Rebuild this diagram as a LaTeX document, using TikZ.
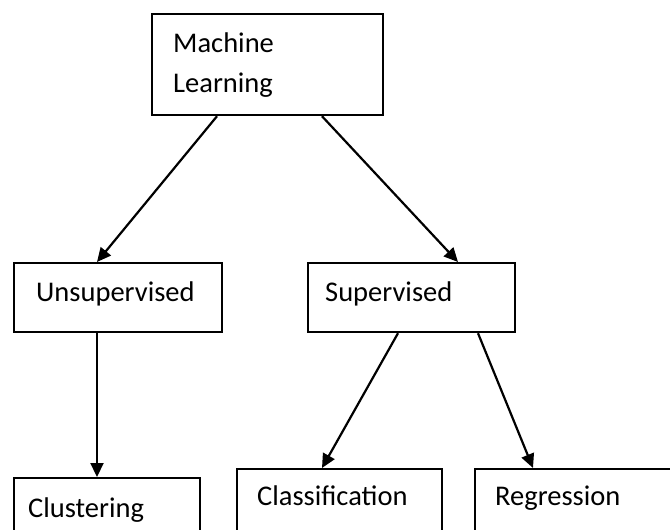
\documentclass[tikz,border=0pt]{standalone}
\usepackage{fontspec}
\setmainfont{Carlito}
\usetikzlibrary{arrows.meta,calc}
\begin{document}
\begin{tikzpicture}[x=1pt,y=-1pt,
  box/.style={draw=black,line width=2.2pt,rectangle,inner sep=0pt,anchor=north west},
  lbl/.style={inner sep=0pt,anchor=base west,font=\fontsize{28.5}{40}\selectfont},
  conn/.style={draw=black,line width=2.2pt,-{Triangle[length=14pt,width=13pt]}}]
\useasboundingbox (0,0) rectangle (670,530);
\clip (0,0) rectangle (670,530);
\node[box,minimum width=231pt,minimum height=101pt] (ml) at (151,13) {};
\node[box,minimum width=208pt,minimum height=69pt] (unsup) at (13,262) {};
\node[box,minimum width=207pt,minimum height=69pt] (sup) at (307,262) {};
\node[box,minimum width=186pt,minimum height=80pt] (clus) at (13,477) {};
\node[box,minimum width=205pt,minimum height=90pt] (clas) at (236,468) {};
\node[box,minimum width=230pt,minimum height=90pt] (reg) at (474,468) {};
\node[lbl] (mlt1) at (173,52) {Machine};
\node[lbl] (mlt2) at (173,92) {Learning};
\node[lbl] (unsupt) at (36,301) {Unsupervised};
\node[lbl] (supt) at (325,301) {Supervised};
\node[lbl] (clust) at (28,517) {Clustering};
\node[lbl] (clast) at (257,505) {Classification};
\node[lbl] (regt) at (495,505) {Regression};
\draw[conn] ($(ml.south west)+(66,0)$) -- ($(unsup.north west)+(84,0)$);
\draw[conn] ($(ml.south west)+(171,0)$) -- ($(sup.north west)+(151,0)$);
\draw[conn] ($(unsup.south west)+(84,0)$) -- ($(clus.north west)+(84,0)$);
\draw[conn] ($(sup.south west)+(91,0)$) -- ($(clas.north west)+(86,0)$);
\draw[conn] ($(sup.south west)+(171,0)$) -- ($(reg.north west)+(59,0)$);
\end{tikzpicture}
\end{document}
